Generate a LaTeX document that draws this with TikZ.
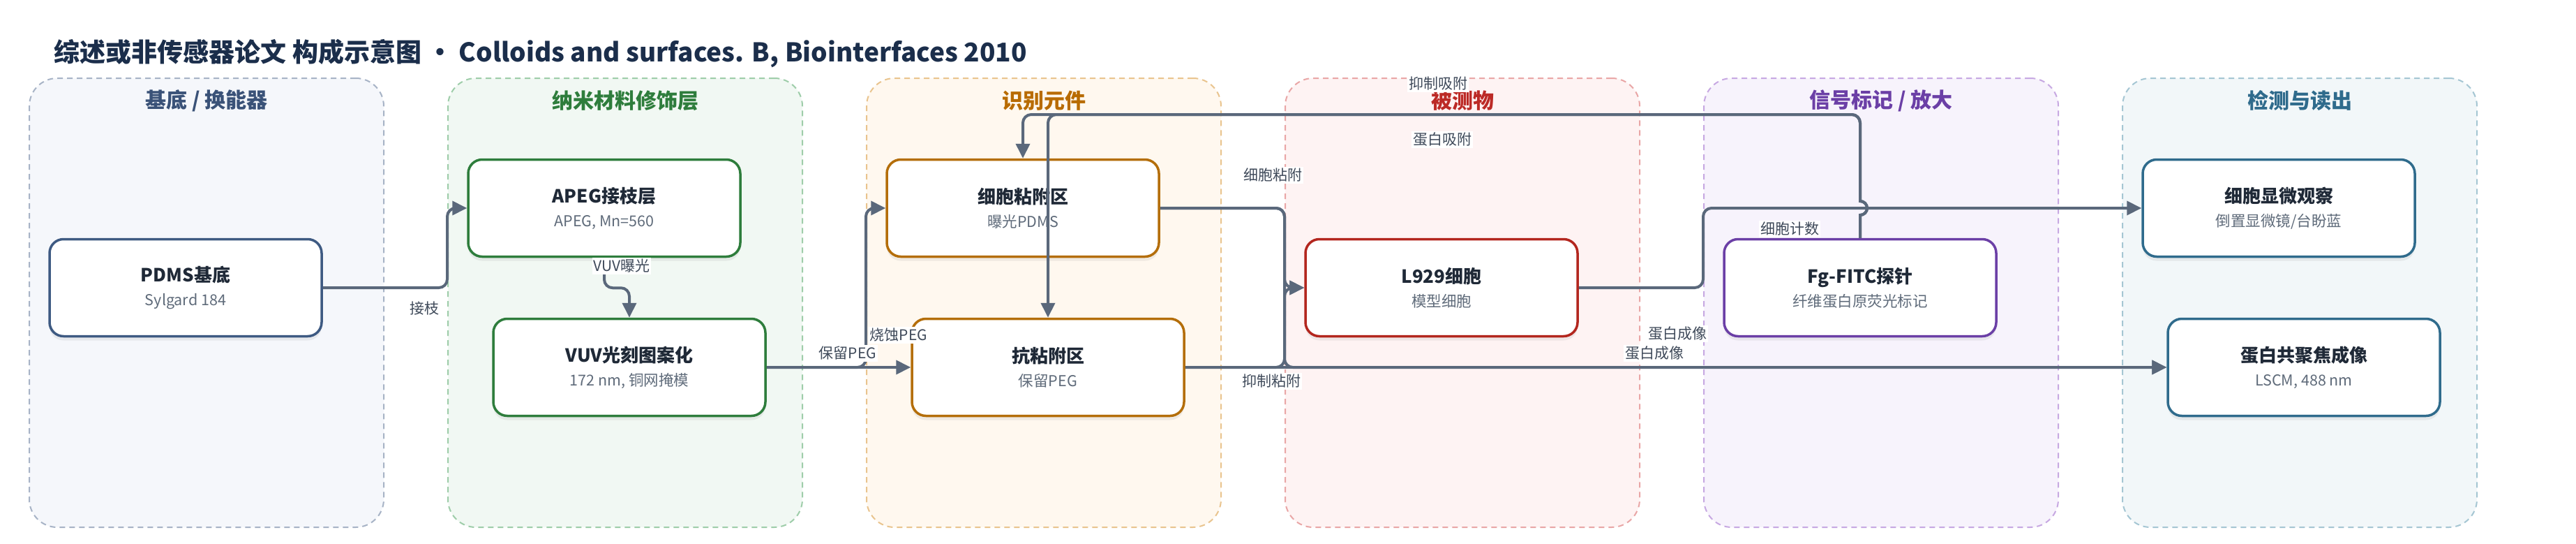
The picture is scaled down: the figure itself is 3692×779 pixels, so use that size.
\documentclass[tikz,border=0pt]{standalone}
\usepackage{fontspec}
\setmainfont{Noto Sans CJK SC}
\usetikzlibrary{arrows.meta,shadows}

\definecolor{titlec}{HTML}{1B2E4B}
\definecolor{linkc}{HTML}{5A687B}
\definecolor{labelc}{HTML}{3F4A5A}
\definecolor{textc}{HTML}{1F2937}
\definecolor{subc}{HTML}{5F6B7A}
% lane colours: fill, dashed border, header, node border
\definecolor{fillA}{HTML}{F5F7FB}\definecolor{lineA}{HTML}{A7B3C6}\definecolor{headA}{HTML}{3A5278}\definecolor{boxA}{HTML}{3E5A82}
\definecolor{fillB}{HTML}{F1F8F3}\definecolor{lineB}{HTML}{9ECDA9}\definecolor{headB}{HTML}{2E7D3C}\definecolor{boxB}{HTML}{2E7D3C}
\definecolor{fillC}{HTML}{FFF8EF}\definecolor{lineC}{HTML}{E9C48E}\definecolor{headC}{HTML}{B86B00}\definecolor{boxC}{HTML}{B46E0A}
\definecolor{fillD}{HTML}{FEF3F3}\definecolor{lineD}{HTML}{E9A6A6}\definecolor{headD}{HTML}{BC2A26}\definecolor{boxD}{HTML}{B3261E}
\definecolor{fillE}{HTML}{F7F3FC}\definecolor{lineE}{HTML}{C7A8E2}\definecolor{headE}{HTML}{6B3FA6}\definecolor{boxE}{HTML}{6B3FA6}
\definecolor{fillF}{HTML}{F2F7F9}\definecolor{lineF}{HTML}{A5C6D3}\definecolor{headF}{HTML}{2F6B8C}\definecolor{boxF}{HTML}{2F6B8C}

\newcommand{\boxtext}[2]{{\fontsize{26}{34}\selectfont\bfseries #1}\\{\fontsize{21.5}{34}\selectfont\color{subc}#2}}

\begin{document}
\begin{tikzpicture}[x=1pt, y=-1pt,
        lane/.style={rectangle, rounded corners=40pt, dashed, dash pattern=on 8pt off 6pt, line width=2pt, minimum width=508pt, minimum height=643pt},
        lanehead/.style={font=\fontsize{30}{36}\selectfont\bfseries},
        stage/.style={rectangle, rounded corners=20pt, line width=3.5pt, fill=white, text=textc, align=center, font=\fontsize{21.5}{34}\selectfont, minimum width=390pt, minimum height=139pt, drop shadow={shadow xshift=0pt, shadow yshift=-6pt, opacity=0.12}},
        link/.style={draw=linkc, line width=4pt, rounded corners=12pt, -{Triangle[length=21pt, width=20pt]}},
        elabel/.style={fill=white, inner sep=2pt, text=labelc, font=\fontsize{21}{25}\selectfont},
    ]
    \fill[white] (0,0) rectangle (3692,779);
    \useasboundingbox (0,0) rectangle (3692,779);

    \node[anchor=west, text=titlec, font=\fontsize{37}{44}\selectfont\bfseries] (title) at (74,77) {综述或非传感器论文 构成示意图 • Colloids and surfaces. B, Biointerfaces 2010};

    % lanes
    \node[lane, draw=lineA, fill=fillA] (laneA) at (296,433.5) {};
    \node[lane, draw=lineB, fill=fillB] (laneB) at (896,433.5) {};
    \node[lane, draw=lineC, fill=fillC] (laneC) at (1496,433.5) {};
    \node[lane, draw=lineD, fill=fillD] (laneD) at (2096,433.5) {};
    \node[lane, draw=lineE, fill=fillE] (laneE) at (2696,433.5) {};
    \node[lane, draw=lineF, fill=fillF] (laneF) at (3296,433.5) {};

    \node[lanehead, text=headA] (headA) at ([yshift=-33pt]laneA.north) {基底 / 换能器};
    \node[lanehead, text=headB] (headB) at ([yshift=-33pt]laneB.north) {纳米材料修饰层};
    \node[lanehead, text=headC] (headC) at ([yshift=-33pt]laneC.north) {识别元件};
    \node[lanehead, text=headD] (headD) at ([yshift=-33pt]laneD.north) {被测物};
    \node[lanehead, text=headE] (headE) at ([yshift=-33pt]laneE.north) {信号标记 / 放大};
    \node[lanehead, text=headF] (headF) at ([yshift=-33pt]laneF.north) {检测与读出};

    % stages
    \node[stage, draw=boxA] (pdms) at (266,412) {\boxtext{PDMS基底}{Sylgard 184}};
    \node[stage, draw=boxB] (apeg) at (866,298) {\boxtext{APEG接枝层}{APEG, Mn=560}};
    \node[stage, draw=boxB] (vuv) at (902,526) {\boxtext{VUV光刻图案化}{172 nm, 铜网掩模}};
    \node[stage, draw=boxC] (cellzone) at (1466,298) {\boxtext{细胞粘附区}{曝光PDMS}};
    \node[stage, draw=boxC] (antizone) at (1502,526) {\boxtext{抗粘附区}{保留PEG}};
    \node[stage, draw=boxD] (l929) at (2066,412) {\boxtext{L929细胞}{模型细胞}};
    \node[stage, draw=boxE] (probe) at (2666,412) {\boxtext{Fg-FITC探针}{纤维蛋白原荧光标记}};
    \node[stage, draw=boxF] (micro) at (3266,298) {\boxtext{细胞显微观察}{倒置显微镜/台盼蓝}};
    \node[stage, draw=boxF] (confocal) at (3302,526) {\boxtext{蛋白共聚焦成像}{LSCM, 488 nm}};

    \coordinate (toprail) at (0,164);
    \coordinate (hop) at (probe.north |- micro.west);

    % connectors
    \draw[link] (pdms.east) -- (pdms.east -| laneB.west) |- (apeg.west);
    \draw[link] (apeg.south) -- ++(0,43) -| (vuv.north);
    \draw[link] (vuv.east) -- (antizone.west);
    \draw[link] (vuv.east) -- (vuv.east -| laneC.west) |- (cellzone.west);
    \draw[link] (cellzone.east) -- (cellzone.east -| laneD.west) |- (l929.west);
    \draw[link] (antizone.east) -- (antizone.east -| laneD.west) |- (l929.west);
    \draw[link] (cellzone.east) -- (cellzone.east -| laneD.west) |- (confocal.west);
    \draw[link] (antizone.east) -- (confocal.west);
    \draw[link] (l929.east) -- (l929.east -| laneE.west) |- (micro.west);
    \draw[link, sharp corners] (probe.north) -- ([yshift=-10pt]hop) arc[start angle=-90, end angle=90, radius=10pt] [rounded corners=12pt] |- (toprail -| cellzone.north) -- (cellzone.north);
    \draw[link, sharp corners] (probe.north) -- ([yshift=-10pt]hop) arc[start angle=-90, end angle=90, radius=10pt] [rounded corners=12pt] |- (toprail -| antizone.north) -- (antizone.north);

    % connector labels
    \node[elabel] (lgraft) at (608,442) {接枝};
    \node[elabel] (lexpose) at (891,381) {VUV曝光};
    \node[elabel] (lkeep) at (1215,506) {保留PEG};
    \node[elabel] (lablate) at (1288,480) {烧蚀PEG};
    \node[elabel] (ladhere) at (1824,251) {细胞粘附};
    \node[elabel] (lblock) at (1822,546) {抑制粘附};
    \node[elabel] (limgA) at (2404,478) {蛋白成像};
    \node[elabel] (limgB) at (2371,506) {蛋白成像};
    \node[elabel] (lcount) at (2565,328) {细胞计数};
    \node[elabel] (lnoads) at (2061,120) {抑制吸附};
    \node[elabel] (lads) at (2067,200) {蛋白吸附};
\end{tikzpicture}
\end{document}
